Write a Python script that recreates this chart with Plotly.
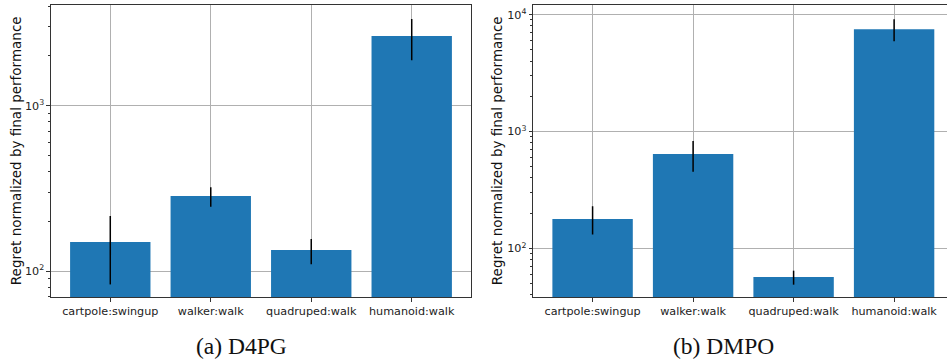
import plotly.graph_objects as go
from plotly.subplots import make_subplots

tasks = ["cartpole:swingup", "walker:walk", "quadruped:walk", "humanoid:walk"]

# D4PG: mean regret and error-bar extents
d4pg_mean = [150, 284, 134, 2640]
d4pg_upper = [215, 321, 156, 3340]
d4pg_lower = [83, 245, 110, 1885]

# DMPO: mean regret and error-bar extents
dmpo_mean = [178, 641, 56.7, 7510]
dmpo_upper = [229, 828, 64.3, 9150]
dmpo_lower = [131, 451, 48.8, 5930]

captions = ["(a) D4PG", "(b) DMPO"]
y_title = "Regret normalized by final performance"

BLUE = "#1f77b4"
GRID = "#b0b0b0"
SPINE = "#333333"
FONT = "DejaVu Sans"
TICK_SIZE = 11.2

fig = make_subplots(rows=1, cols=2)


def add_panel(col, mean, upper, lower):
    fig.add_trace(
        go.Bar(
            x=list(range(len(tasks))),
            y=mean,
            width=0.8,
            marker=dict(color=BLUE, line=dict(width=0)),
            error_y=dict(
                type="data",
                symmetric=False,
                array=[u - m for u, m in zip(upper, mean)],
                arrayminus=[m - l for m, l in zip(mean, lower)],
                color="black",
                thickness=1.5,
                width=0,
            ),
            showlegend=False,
        ),
        row=1,
        col=col,
    )


add_panel(1, d4pg_mean, d4pg_upper, d4pg_lower)
add_panel(2, dmpo_mean, dmpo_upper, dmpo_lower)

H = 360
W = 947
y_dom = [1 - 297 / H, 1 - 5.3 / H]

common_x = dict(
    tickmode="array",
    tickvals=list(range(len(tasks))),
    ticktext=tasks,
    tickangle=0,
    automargin=False,
    showgrid=True,
    gridcolor=GRID,
    gridwidth=1,
    showline=True,
    linecolor=SPINE,
    linewidth=1.2,
    mirror=True,
    ticks="outside",
    ticklen=3.5,
    tickcolor=SPINE,
    tickfont=dict(family=FONT, size=TICK_SIZE, color="#222"),
    zeroline=False,
)

fig.update_xaxes(common_x)
fig.update_xaxes(domain=[51 / W, 471 / W], range=[-0.59, 3.59], row=1, col=1)
fig.update_xaxes(domain=[533.3 / W, 1.0], range=[-0.59, -0.59 + (W - 533.3) / 100.5], row=1, col=2)

common_y = dict(
    type="log",
    automargin=False,
    showgrid=True,
    gridcolor=GRID,
    gridwidth=1,
    showline=True,
    linecolor=SPINE,
    linewidth=1.2,
    ticks="outside",
    ticklen=3.5,
    tickcolor=SPINE,
    tickfont=dict(family=FONT, size=TICK_SIZE, color="#222"),
    minor=dict(ticks="outside", ticklen=2, tickcolor=SPINE, showgrid=False, dtick="D1"),
    zeroline=False,
    domain=y_dom,
)
fig.update_yaxes(common_y)
fig.update_yaxes(
    range=[1.843, 3.607],
    tickmode="array",
    tickvals=[100, 1000],
    ticktext=["10<sup>2</sup>", "10<sup>3</sup>"],
    mirror=True,
    row=1,
    col=1,
)
fig.update_yaxes(
    range=[1.583, 4.080],
    tickmode="array",
    tickvals=[100, 1000, 10000],
    ticktext=["10<sup>2</sup>", "10<sup>3</sup>", "10<sup>4</sup>"],
    mirror=False,
    row=1,
    col=2,
)

annotations = []
# y-axis titles
for xpix in (16, 497):
    annotations.append(
        dict(
            text=y_title,
            x=xpix / W,
            y=(y_dom[0] + y_dom[1]) / 2,
            xref="paper",
            yref="paper",
            textangle=-90,
            showarrow=False,
            xanchor="center",
            yanchor="middle",
            font=dict(family=FONT, size=13.5, color="#111"),
        )
    )
# panel captions
for xpix, cap in zip((241, 723.5), captions):
    annotations.append(
        dict(
            text=cap,
            x=xpix / W,
            y=1 - 346 / H,
            xref="paper",
            yref="paper",
            showarrow=False,
            xanchor="center",
            yanchor="middle",
            font=dict(family="Liberation Serif", size=23.5, color="#111"),
        )
    )

fig.update_layout(
    width=W,
    height=H,
    margin=dict(l=0, r=0, t=0, b=0),
    paper_bgcolor="white",
    plot_bgcolor="white",
    bargap=0.2,
    annotations=annotations,
)

fig.write_html("out.html")
